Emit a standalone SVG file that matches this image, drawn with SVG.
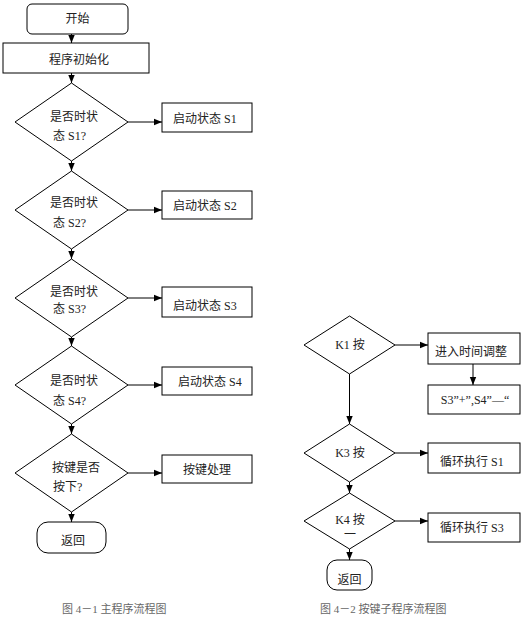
<svg xmlns="http://www.w3.org/2000/svg" width="523" height="619" viewBox="0 0 523 619">
<style>
.s{fill:#fff;stroke:#000;stroke-width:1}
.c{fill:none;stroke:#000;stroke-width:1}
text{font-family:"Liberation Serif","Noto Sans CJK SC",serif;font-size:12px;fill:#222}
.m{text-anchor:middle}
.cap{font-size:11px;fill:#666}
</style>
<defs>
<marker id="a" markerUnits="userSpaceOnUse" markerWidth="8" markerHeight="8" viewBox="0 0 8 8" refX="8" refY="4" orient="auto">
<path d="M0,0.8 L8,4 L0,7.2 Z" fill="#000"/>
</marker>
</defs>
<rect width="523" height="619" fill="#fff"/>
<g id="connectors">
<line class="c" x1="71.5" y1="34" x2="71.5" y2="43" marker-end="url(#a)"/>
<line class="c" x1="71.5" y1="73" x2="71.5" y2="83" marker-end="url(#a)"/>
<line class="c" x1="71.5" y1="161" x2="71.5" y2="171" marker-end="url(#a)"/>
<line class="c" x1="71.5" y1="249" x2="71.5" y2="259" marker-end="url(#a)"/>
<line class="c" x1="71.5" y1="337" x2="71.5" y2="346" marker-end="url(#a)"/>
<line class="c" x1="71.5" y1="424" x2="71.5" y2="434" marker-end="url(#a)"/>
<line class="c" x1="71.5" y1="512" x2="71.5" y2="522" marker-end="url(#a)"/>
<line class="c" x1="128" y1="122" x2="162" y2="122" marker-end="url(#a)"/>
<line class="c" x1="128" y1="210" x2="162" y2="210" marker-end="url(#a)"/>
<line class="c" x1="128" y1="298" x2="162" y2="298" marker-end="url(#a)"/>
<line class="c" x1="128" y1="385" x2="162" y2="385" marker-end="url(#a)"/>
<line class="c" x1="128" y1="473" x2="162" y2="473" marker-end="url(#a)"/>
<line class="c" x1="349.5" y1="374" x2="349.5" y2="424" marker-end="url(#a)"/>
<line class="c" x1="349.5" y1="482" x2="349.5" y2="493" marker-end="url(#a)"/>
<line class="c" x1="349.5" y1="549" x2="349.5" y2="560" marker-end="url(#a)"/>
<line class="c" x1="395" y1="345" x2="428" y2="345" marker-end="url(#a)"/>
<line class="c" x1="395" y1="453" x2="428" y2="453" marker-end="url(#a)"/>
<line class="c" x1="395" y1="521" x2="428" y2="521" marker-end="url(#a)"/>
<line class="c" x1="473" y1="364" x2="473" y2="385" marker-end="url(#a)"/>
</g>
<g id="start"><rect class="s" x="27" y="4" width="101" height="30" rx="5"/><text class="m" x="77.5" y="23">开始</text></g>
<g id="init"><rect class="s" x="3" y="43" width="146" height="30"/><text class="m" x="79" y="64">程序初始化</text></g>
<g id="d1"><polygon class="s" points="71.5,83 128,122 71.5,161 15,122"/><text x="50" y="121">是否时状</text><text x="53" y="140">态 S1?</text></g>
<g id="d2"><polygon class="s" points="71.5,171 128,210 71.5,249 15,210"/><text x="50" y="207">是否时状</text><text x="53" y="227">态 S2?</text></g>
<g id="d3"><polygon class="s" points="71.5,259 128,298 71.5,337 15,298"/><text x="50" y="296">是否时状</text><text x="53" y="313">态 S3?</text></g>
<g id="d4"><polygon class="s" points="71.5,346 128,385 71.5,424 15,385"/><text x="50" y="385">是否时状</text><text x="53" y="405">态 S4?</text></g>
<g id="d5"><polygon class="s" points="71.5,434 128,473 71.5,512 15,473"/><text x="52" y="472">按键是否</text><text x="53" y="491">按下?</text></g>
<g id="b1"><rect class="s" x="162" y="103" width="90" height="29"/><text x="173" y="123">启动状态 S1</text></g>
<g id="b2"><rect class="s" x="162" y="191" width="90" height="28"/><text x="173" y="210">启动状态 S2</text></g>
<g id="b3"><rect class="s" x="162" y="287" width="90" height="30"/><text x="173" y="310">启动状态 S3</text></g>
<g id="b4"><rect class="s" x="162" y="367" width="90" height="28"/><text x="178" y="386">启动状态 S4</text></g>
<g id="b5"><rect class="s" x="162" y="455" width="90" height="28"/><text class="m" x="207" y="474">按键处理</text></g>
<g id="ret1"><rect class="s" x="37" y="522" width="69" height="31" rx="11"/><text class="m" x="73" y="545">返回</text></g>
<g id="k1"><polygon class="s" points="349.5,316 395,345 349.5,374 304,345"/><text class="m" x="350" y="349">K1 按</text></g>
<g id="k3"><polygon class="s" points="349.5,424 395,453 349.5,482 304,453"/><text class="m" x="350" y="457">K3 按</text></g>
<g id="k4"><polygon class="s" points="349.5,493 395,521 349.5,549 304,521"/><text class="m" x="350" y="524">K4 按</text><text class="m" x="350" y="539">一</text></g>
<g id="r1"><rect class="s" x="428" y="333" width="92" height="31"/><text class="m" x="471" y="356">进入时间调整</text></g>
<g id="r2"><rect class="s" x="428" y="385" width="92" height="29"/><text class="m" x="475" y="404">S3”+”,S4”—“</text></g>
<g id="r3"><rect class="s" x="428" y="443" width="92" height="30"/><text x="440" y="466">循环执行 S1</text></g>
<g id="r4"><rect class="s" x="428" y="513" width="92" height="29"/><text x="440" y="532">循环执行 S3</text></g>
<g id="ret2"><rect class="s" x="327" y="560" width="45" height="30" rx="10"/><text class="m" x="349.5" y="584">返回</text></g>
<text class="cap" x="62" y="613">图 4－1 主程序流程图</text>
<text class="cap" x="320" y="613">图 4－2 按键子程序流程图</text>
</svg>
